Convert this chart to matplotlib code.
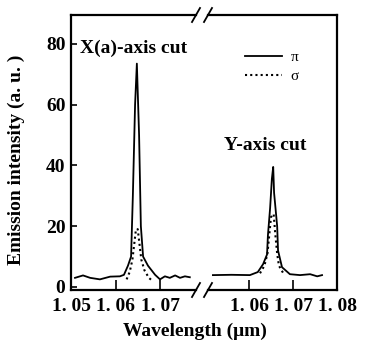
import matplotlib
matplotlib.use("Agg")
import matplotlib.pyplot as plt
from matplotlib.lines import Line2D

plt.rcParams['font.family'] = ['Liberation Serif', 'DejaVu Serif']

# ---- data (wavelength in um, intensity in a.u.) ----
x_cut_pi_wl = [1.0509, 1.0527, 1.0543, 1.0565, 1.0588, 1.0610, 1.0619, 1.0628, 1.0635,
               1.0639, 1.0644, 1.0648, 1.0653, 1.0657, 1.0662, 1.0673, 1.0689, 1.0700,
               1.0711, 1.0722, 1.0734, 1.0745, 1.0756, 1.0767]
x_cut_pi_val = [3.0, 3.8, 3.0, 2.5, 3.4, 3.5, 4.0, 7.0, 10.0,
                30.0, 60.0, 73.5, 50.0, 20.0, 10.0, 7.0, 4.0, 2.5,
                3.5, 3.0, 3.8, 3.0, 3.5, 3.2]
x_cut_sigma_wl = [1.0625, 1.0632, 1.0638, 1.0642, 1.0646, 1.0650, 1.0654, 1.0658,
                  1.0665, 1.0675, 1.0683]
x_cut_sigma_val = [2.5, 5.0, 9.0, 14.0, 19.0, 19.0, 14.0, 9.0, 5.5, 3.0, 2.0]

y_cut_pi_wl = [1.0518, 1.0560, 1.0602, 1.0620, 1.0632, 1.0641, 1.0643, 1.0648, 1.0652,
               1.0655, 1.0657, 1.0664, 1.0666, 1.0675, 1.0693, 1.0716, 1.0739, 1.0755,
               1.0766]
y_cut_pi_val = [3.9, 4.0, 3.9, 4.9, 7.5, 10.7, 17.0, 26.0, 35.6,
                39.5, 31.0, 20.0, 12.0, 6.5, 4.2, 3.9, 4.2, 3.5, 3.9]
y_cut_sigma_wl = [1.0625, 1.0635, 1.0642, 1.0646, 1.0650, 1.0656, 1.0660, 1.0664,
                  1.0668, 1.0678]
y_cut_sigma_val = [4.5, 7.0, 11.0, 17.0, 23.0, 24.0, 17.0, 11.0, 7.0, 4.5]

left_ticks = [1.05, 1.06, 1.07]
left_ticklabels = ['1. 05', '1. 06', '1. 07']
right_ticks = [1.06, 1.07, 1.08]
right_ticklabels = ['1. 06', '1. 07', '1. 08']
y_ticks = [0, 20, 40, 60, 80]
y_ticklabels = ['0', '20', '40', '60', '80']

W, H = 366, 341
fig = plt.figure(figsize=(W / 100, H / 100), dpi=100)

def fx(px):
    return px / W

def fy(py):
    return 1 - py / H

ax_l, ax_r, ax_t, ax_b = 71, 196, 15, 290
ax2_l, ax2_r = 208, 337
ax1 = fig.add_axes([fx(ax_l), fy(ax_b), (ax_r - ax_l) / W, (ax_b - ax_t) / H])
ax2 = fig.add_axes([fx(ax2_l), fy(ax_b), (ax2_r - ax2_l) / W, (ax_b - ax_t) / H])

fs = 14
lw_sp = 1.6
for ax in (ax1, ax2):
    ax.set_ylim(-1, 89.5)
    for s in ax.spines.values():
        s.set_linewidth(lw_sp)

ax1.set_xlim(1.05, 1.05 + 125 / 4450)
ax2.set_xlim(1.08 - 129 / 4400, 1.08)

ax1.spines['right'].set_visible(False)
ax2.spines['left'].set_visible(False)

dot = (0, (1, 1.5))
ax1.plot(x_cut_pi_wl, x_cut_pi_val, color='black', lw=1.3)
ax1.plot(x_cut_sigma_wl, x_cut_sigma_val, color='black', lw=1.5, ls=dot)
l1, = ax2.plot(y_cut_pi_wl, y_cut_pi_val, color='black', lw=1.3)
l2, = ax2.plot(y_cut_sigma_wl, y_cut_sigma_val, color='black', lw=1.5, ls=dot)

ax1.set_xticks(left_ticks)
ax1.set_xticklabels(left_ticklabels, fontweight='bold')
ax2.set_xticks(right_ticks)
ax2.set_xticklabels(right_ticklabels, fontweight='bold')
ax1.set_yticks(y_ticks)
ax1.set_yticklabels(y_ticklabels, fontweight='bold')
ax2.set_yticks([])

ax1.tick_params(axis='x', direction='in', length=7, width=1.2, labelsize=fs, pad=6)
ax2.tick_params(axis='x', direction='in', length=7, width=1.2, labelsize=fs, pad=6)
ax1.tick_params(axis='y', direction='in', length=4, width=1.2, labelsize=fs, pad=4)

ax1.set_ylabel('Emission intensity (a. u. )', fontsize=fs, fontweight='bold')
ax1.yaxis.set_label_coords((25 - ax_l) / (ax_r - ax_l), (ax_b - 160) / (ax_b - ax_t))
fig.text(fx(195), fy(331), 'Wavelength (μm)', fontsize=fs, fontweight='bold',
         ha='center', va='center')

ax1.text((80 - ax_l) / (ax_r - ax_l), (ax_b - 48) / (ax_b - ax_t), 'X(a)-axis cut',
         transform=ax1.transAxes, fontsize=fs, fontweight='bold', ha='left', va='center')
ax2.text((265 - ax2_l) / (ax2_r - ax2_l), (ax_b - 145) / (ax_b - ax_t), 'Y-axis cut',
         transform=ax2.transAxes, fontsize=fs, fontweight='bold', ha='center', va='center')

ax2.legend(handles=[l1, l2], labels=['π', 'σ'], frameon=False, fontsize=11,
           loc='center left', bbox_to_anchor=(fx(245), fy(67)), bbox_transform=fig.transFigure,
           handlelength=2.4, handletextpad=0.6, labelspacing=0.35, borderpad=0, borderaxespad=0)

# break marks
for cx in (ax_r, ax2_l):
    for py in (ax_t, ax_b):
        fig.add_artist(Line2D([fx(cx - 4), fx(cx + 4)], [fy(py + 7), fy(py - 7)],
                              transform=fig.transFigure, color='black', lw=1.3))

fig.savefig('out.png', dpi=100)
